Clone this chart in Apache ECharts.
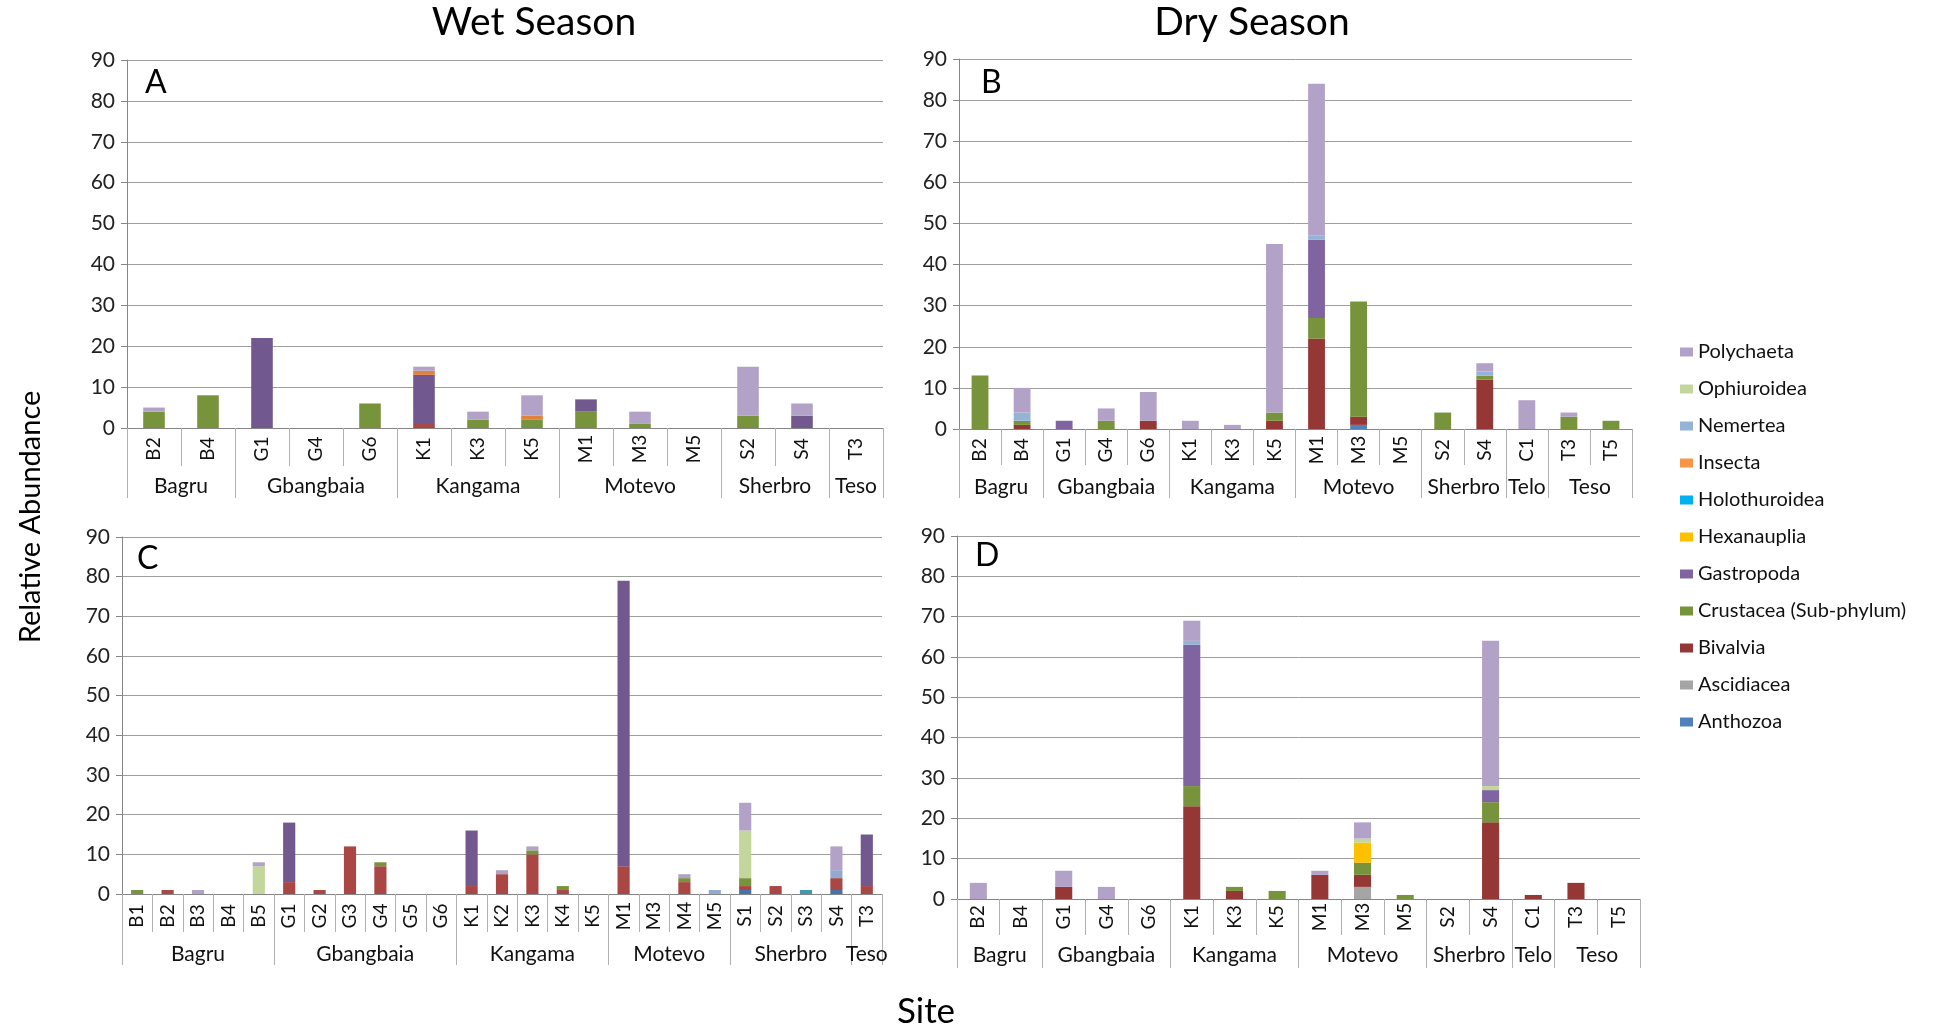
<!DOCTYPE html>
<html>
<head>
<meta charset="utf-8">
<script src="https://cdn.jsdelivr.net/npm/echarts@6/dist/echarts.min.js"></script>
<style>
html,body{margin:0;padding:0;background:#fff;}
#chart{width:1941px;height:1028px;}
</style>
</head>
<body>
<div id="chart"></div>
<script>
// ---------- taxa (stack order bottom -> top) ----------
const TAXA = ['Anthozoa','Ascidiacea','Bivalvia','Crustacea (Sub-phylum)','Gastropoda','Hexanauplia','Holothuroidea','Insecta','Nemertea','Ophiuroidea','Polychaeta'];
const COLORS_DRY = ['#4F81BD','#A5A5A5','#953735','#77933C','#8064A2','#FFC000','#00B0F0','#F79646','#95B3D7','#C3D69B','#B3A2C7'];
const COLORS_WET = ['#4572A7','#A5A5A5','#AA4643','#77933C','#71588F','#FFC000','#4198AF','#E0813C','#93A9CF','#C3D69B','#B3A2C7'];
const Y_TICKS = [0,10,20,30,40,50,60,70,80,90];

// ---------- Panel A (Wet Season, top) ----------
const A_sites  = ['B2','B4','G1','G4','G6','K1','K3','K5','M1','M3','M5','S2','S4','T3'];
const A_groups = ['Bagru','Gbangbaia','Kangama','Motevo','Sherbro','Teso'];
const A_groupSizes = [2,3,3,3,2,1];
const A_Bivalvia   = [0,0,0,0,0,1,0,0,0,0,0,0,0,0];
const A_Crustacea  = [4,8,0,0,6,0,2,2,4,1,0,3,0,0];
const A_Gastropoda = [0,0,22,0,0,12,0,0,3,0,0,0,3,0];
const A_Insecta    = [0,0,0,0,0,1,0,1,0,0,0,0,0,0];
const A_Polychaeta = [1,0,0,0,0,1,2,5,0,3,0,12,3,0];

// ---------- Panel B (Dry Season, top) ----------
const B_sites  = ['B2','B4','G1','G4','G6','K1','K3','K5','M1','M3','M5','S2','S4','C1','T3','T5'];
const B_groups = ['Bagru','Gbangbaia','Kangama','Motevo','Sherbro','Telo','Teso'];
const B_groupSizes = [2,3,3,3,2,1,2];
const B_Anthozoa   = [0,0,0,0,0,0,0,0,0,1,0,0,0,0,0,0];
const B_Bivalvia   = [0,1,0,0,2,0,0,2,22,2,0,0,12,0,0,0];
const B_Crustacea  = [13,1,0,2,0,0,0,2,5,28,0,4,1,0,3,2];
const B_Gastropoda = [0,0,2,0,0,0,0,0,19,0,0,0,0,0,0,0];
const B_Nemertea   = [0,2,0,0,0,0,0,0,1,0,0,0,1,0,0,0];
const B_Polychaeta = [0,6,0,3,7,2,1,41,37,0,0,0,2,7,1,0];

// ---------- Panel C (Wet Season, bottom) ----------
const C_sites  = ['B1','B2','B3','B4','B5','G1','G2','G3','G4','G5','G6','K1','K2','K3','K4','K5','M1','M3','M4','M5','S1','S2','S3','S4','T3'];
const C_groups = ['Bagru','Gbangbaia','Kangama','Motevo','Sherbro','Teso'];
const C_groupSizes = [5,6,5,4,4,1];
const C_Anthozoa      = [0,0,0,0,0, 0,0,0,0,0,0, 0,0,0,0,0, 0,0,0,0, 1,0,0,1, 0];
const C_Bivalvia      = [0,1,0,0,0, 3,1,12,7,0,0, 2,5,10,1,0, 7,0,3,0, 1,2,0,3, 2];
const C_Crustacea     = [1,0,0,0,0, 0,0,0,1,0,0, 0,0,1,1,0, 0,0,1,0, 2,0,0,0, 0];
const C_Gastropoda    = [0,0,0,0,0, 15,0,0,0,0,0, 14,0,0,0,0, 72,0,0,0, 0,0,0,0, 13];
const C_Holothuroidea = [0,0,0,0,0, 0,0,0,0,0,0, 0,0,0,0,0, 0,0,0,0, 0,0,1,0, 0];
const C_Nemertea      = [0,0,0,0,0, 0,0,0,0,0,0, 0,0,0,0,0, 0,0,0,1, 0,0,0,2, 0];
const C_Ophiuroidea   = [0,0,0,0,7, 0,0,0,0,0,0, 0,0,0,0,0, 0,0,0,0, 12,0,0,0, 0];
const C_Polychaeta    = [0,0,1,0,1, 0,0,0,0,0,0, 0,1,1,0,0, 0,0,1,0, 7,0,0,6, 0];

// ---------- Panel D (Dry Season, bottom) ----------
const D_sites  = ['B2','B4','G1','G4','G6','K1','K3','K5','M1','M3','M5','S2','S4','C1','T3','T5'];
const D_groups = ['Bagru','Gbangbaia','Kangama','Motevo','Sherbro','Telo','Teso'];
const D_groupSizes = [2,3,3,3,2,1,2];
const D_Ascidiacea  = [0,0,0,0,0,0,0,0,0,3,0,0,0,0,0,0];
const D_Bivalvia    = [0,0,3,0,0,23,2,0,6,3,0,0,19,1,4,0];
const D_Crustacea   = [0,0,0,0,0,5,1,2,0,3,1,0,5,0,0,0];
const D_Gastropoda  = [0,0,0,0,0,35,0,0,0,0,0,0,3,0,0,0];
const D_Hexanauplia = [0,0,0,0,0,0,0,0,0,5,0,0,0,0,0,0];
const D_Nemertea    = [0,0,0,0,0,1,0,0,0,0,0,0,0,0,0,0];
const D_Ophiuroidea = [0,0,0,0,0,0,0,0,0,1,0,0,1,0,0,0];
const D_Polychaeta  = [4,0,4,3,0,5,0,0,1,4,0,0,36,0,0,0];

// ---------- panel descriptors (layout) ----------
const panels = [
  { letter:'A', sites:A_sites, groups:A_groups, sizes:A_groupSizes, colors:COLORS_WET,
    grid:{left:127, top:60, width:756, height:368}, siteTick:38, groupTick:70, labelMargin:21, groupMargin:48,
    data:{'Bivalvia':A_Bivalvia,'Crustacea (Sub-phylum)':A_Crustacea,'Gastropoda':A_Gastropoda,'Insecta':A_Insecta,'Polychaeta':A_Polychaeta},
    letterPos:[145,83] },
  { letter:'B', sites:B_sites, groups:B_groups, sizes:B_groupSizes, colors:COLORS_DRY,
    grid:{left:959, top:59, width:673, height:370}, siteTick:36, groupTick:69, labelMargin:21, groupMargin:48,
    data:{'Anthozoa':B_Anthozoa,'Bivalvia':B_Bivalvia,'Crustacea (Sub-phylum)':B_Crustacea,'Gastropoda':B_Gastropoda,'Nemertea':B_Nemertea,'Polychaeta':B_Polychaeta},
    letterPos:[981,83] },
  { letter:'C', sites:C_sites, groups:C_groups, sizes:C_groupSizes, colors:COLORS_WET,
    grid:{left:122, top:537, width:760, height:357}, siteTick:38, groupTick:71, labelMargin:22, groupMargin:50,
    data:{'Anthozoa':C_Anthozoa,'Bivalvia':C_Bivalvia,'Crustacea (Sub-phylum)':C_Crustacea,'Gastropoda':C_Gastropoda,'Holothuroidea':C_Holothuroidea,'Nemertea':C_Nemertea,'Ophiuroidea':C_Ophiuroidea,'Polychaeta':C_Polychaeta},
    letterPos:[137,559] },
  { letter:'D', sites:D_sites, groups:D_groups, sizes:D_groupSizes, colors:COLORS_DRY,
    grid:{left:957, top:536, width:683, height:363}, siteTick:36, groupTick:69, labelMargin:18, groupMargin:46,
    data:{'Ascidiacea':D_Ascidiacea,'Bivalvia':D_Bivalvia,'Crustacea (Sub-phylum)':D_Crustacea,'Gastropoda':D_Gastropoda,'Hexanauplia':D_Hexanauplia,'Nemertea':D_Nemertea,'Ophiuroidea':D_Ophiuroidea,'Polychaeta':D_Polychaeta},
    letterPos:[975,556] }
];

const FONT = 'Lato, "Open Sans", sans-serif';
const grids = [], xAxes = [], yAxes = [], series = [], graphics = [];

panels.forEach((p, i) => {
  grids.push(Object.assign({containLabel:false}, p.grid));
  const n = p.sites.length;
  const bounds = [0]; const centers = []; const nameAt = {};
  let acc = 0;
  p.sizes.forEach((s, k) => { const c = acc + s/2; centers.push(c); nameAt[c.toFixed(2)] = p.groups[k]; acc += s; bounds.push(acc); });

  // site axis
  xAxes.push({
    type:'category', gridIndex:i, data:p.sites, position:'bottom',
    axisLine:{show:true, lineStyle:{color:'#868686', width:1}},
    axisTick:{show:true, interval:0, length:p.siteTick, lineStyle:{color:'#B0B0B0', width:1}},
    axisLabel:{interval:0, rotate:90, align:'center', verticalAlign:'middle', margin:p.labelMargin, fontSize:19, color:'#111', fontFamily:FONT},
    splitLine:{show:false}
  });
  // group axis (value axis 0..n with ticks at group boundaries)
  xAxes.push({
    type:'value', gridIndex:i, position:'bottom', min:0, max:n,
    axisLine:{show:false}, splitLine:{show:false},
    axisTick:{show:true, customValues:bounds, length:p.groupTick, lineStyle:{color:'#B0B0B0', width:1}},
    axisLabel:{show:true, customValues:centers, margin:p.groupMargin, fontSize:21, color:'#111', fontFamily:FONT,
      formatter:(v) => nameAt[Number(v).toFixed(2)] || ''}
  });
  yAxes.push({
    type:'value', gridIndex:i, min:0, max:90, interval:10,
    axisLine:{show:true, lineStyle:{color:'#868686', width:1}},
    axisTick:{show:true, length:6, lineStyle:{color:'#868686'}},
    axisLabel:{fontSize:21, color:'#222', margin:12, fontFamily:FONT, customValues:Y_TICKS},
    splitLine:{show:true, lineStyle:{color:'#9E9E9E', width:1}}
  });
  TAXA.forEach((t, k) => {
    const arr = p.data[t];
    if (!arr) return;
    series.push({
      type:'bar', name:t, xAxisIndex:i*2, yAxisIndex:i, stack:'s'+i,
      data:arr, barWidth:'40%', itemStyle:{color:p.colors[k]},
      emphasis:{disabled:true}, animation:false
    });
  });
  graphics.push({type:'text', x:p.letterPos[0], y:p.letterPos[1], style:{text:p.letter, font:'32px '+FONT, fill:'#000', textVerticalAlign:'middle'}});
});

graphics.push({type:'text', x:534, y:22, style:{text:'Wet Season', font:'39px '+FONT, fill:'#000', textAlign:'center', textVerticalAlign:'middle'}});
graphics.push({type:'text', x:1252, y:22, style:{text:'Dry Season', font:'39px '+FONT, fill:'#000', textAlign:'center', textVerticalAlign:'middle'}});
graphics.push({type:'text', x:31, y:517, rotation:Math.PI/2, style:{text:'Relative Abundance', font:'29px '+FONT, fill:'#000', textAlign:'center', textVerticalAlign:'middle'}});
graphics.push({type:'text', x:926, y:1012, style:{text:'Site', font:'35px '+FONT, fill:'#000', textAlign:'center', textVerticalAlign:'middle'}});

const legendData = TAXA.map((t, k) => ({name:t, itemStyle:{color:COLORS_DRY[k]}})).reverse();

const chart = echarts.init(document.getElementById('chart'), null, {renderer:'canvas'});
chart.setOption({
  animation:false,
  backgroundColor:'#fff',
  textStyle:{fontFamily:FONT},
  grid:grids, xAxis:xAxes, yAxis:yAxes, series:series,
  legend:{orient:'vertical', left:1675, top:336, itemWidth:13, itemHeight:9, itemGap:15, selectedMode:false,
    icon:'rect', textStyle:{fontSize:20, color:'#111', lineHeight:22, fontFamily:FONT}, data:legendData},
  graphic:graphics
});
</script>
</body>
</html>
